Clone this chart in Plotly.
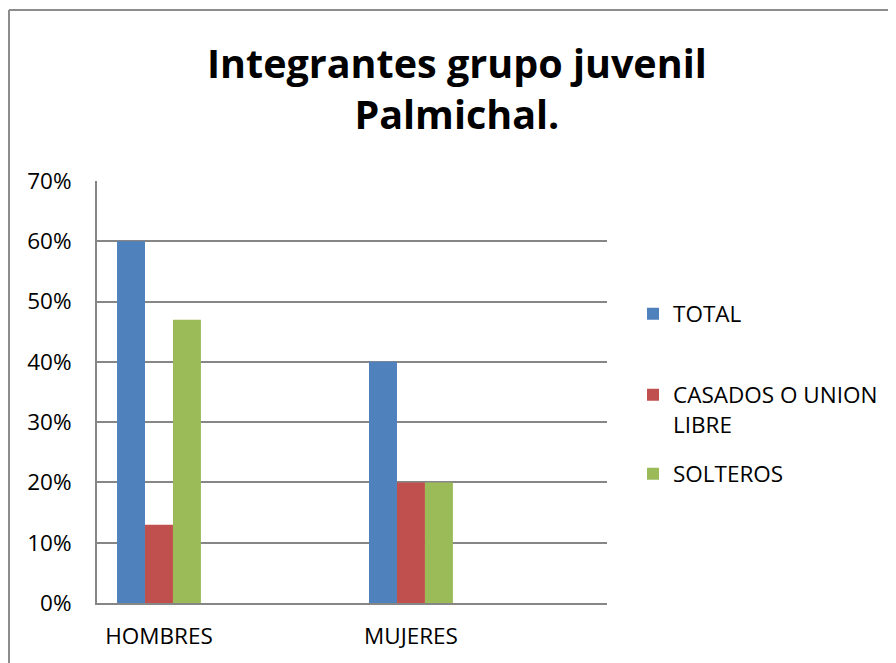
import plotly.graph_objects as go

categories = ["HOMBRES", "MUJERES"]
series_names = ["TOTAL", "CASADOS O UNION<br>LIBRE", "SOLTEROS"]
total = [0.60, 0.40]
casados = [0.13, 0.20]
solteros = [0.47, 0.20]
y_ticks = [0, 0.1, 0.2, 0.3, 0.4, 0.5, 0.6, 0.7]
y_tick_labels = ["0%", "10%", "20%", "30%", "40%", "50%", "60%", "70%"]

colors = ["#4F81BD", "#C0504D", "#9BBB59"]
values = [total, casados, solteros]
legend_ids = ["legend", "legend2", "legend3"]

x_pos = list(range(len(categories)))

fig = go.Figure()
for i, (name, vals) in enumerate(zip(series_names, values)):
    fig.add_trace(go.Bar(
        x=x_pos, y=vals, name=name,
        marker=dict(color=colors[i], line=dict(width=0)),
        legend=legend_ids[i],
    ))

FONT = "Open Sans"
L, R, T, B = 89, 297, 173, 68
W, H = 896, 663
PW = W - L - R
PH = H - T - B


def px_y(fy):
    return (H - B - fy) / PH


def px_x(fx):
    return (fx - L) / PW


leg_common = dict(
    xanchor="left", yanchor="middle", valign="top",
    font=dict(family=FONT, size=22.5, color="black"),
    bgcolor="rgba(0,0,0,0)", borderwidth=0,
)
leg_x = px_x(625)

fig.update_layout(
    width=W, height=H,
    paper_bgcolor="white", plot_bgcolor="white",
    margin=dict(l=L, r=R, t=T, b=B),
    barmode="group", bargap=0.667, bargroupgap=0,
    title=dict(
        text="<b>Integrantes grupo juvenil<br>Palmichal.</b>",
        font=dict(family=FONT, size=39.5, color="black"),
        x=0.501, xanchor="center", xref="container",
        y=1 - 69.5 / H, yanchor="middle", yref="container",
    ),
    font=dict(family=FONT, size=22.5, color="black"),
    legend=dict(x=leg_x, y=px_y(306), **leg_common),
    legend2=dict(x=leg_x, y=px_y(401.5), **leg_common),
    legend3=dict(x=leg_x, y=px_y(466), **leg_common),
    showlegend=True,
)
fig.update_xaxes(
    range=[-0.246, 1.778],
    tickvals=x_pos, ticktext=categories,
    showgrid=False, zeroline=False,
    showline=True, linecolor="#868686", linewidth=2,
    ticks="", ticklen=0, ticklabelstandoff=12,
    tickfont=dict(family=FONT, size=22.5, color="black"),
)
fig.update_yaxes(
    range=[0, 0.7],
    tickvals=y_ticks, ticktext=y_tick_labels,
    showgrid=True, gridcolor="#868686", gridwidth=1.5,
    zeroline=False,
    showline=True, linecolor="#868686", linewidth=2,
    ticks="", ticklen=0, ticklabelstandoff=19,
    tickfont=dict(family=FONT, size=22.5, color="black"),
)

# outer chart border (left and top edges)
fig.add_shape(type="line", xref="paper", yref="paper",
              x0=px_x(1), x1=px_x(1), y0=px_y(H + 5), y1=px_y(2),
              line=dict(color="#8C8C8C", width=2))
fig.add_shape(type="line", xref="paper", yref="paper",
              x0=px_x(1), x1=px_x(W), y0=px_y(2), y1=px_y(2),
              line=dict(color="#8C8C8C", width=2))

fig.write_html("out.html")
